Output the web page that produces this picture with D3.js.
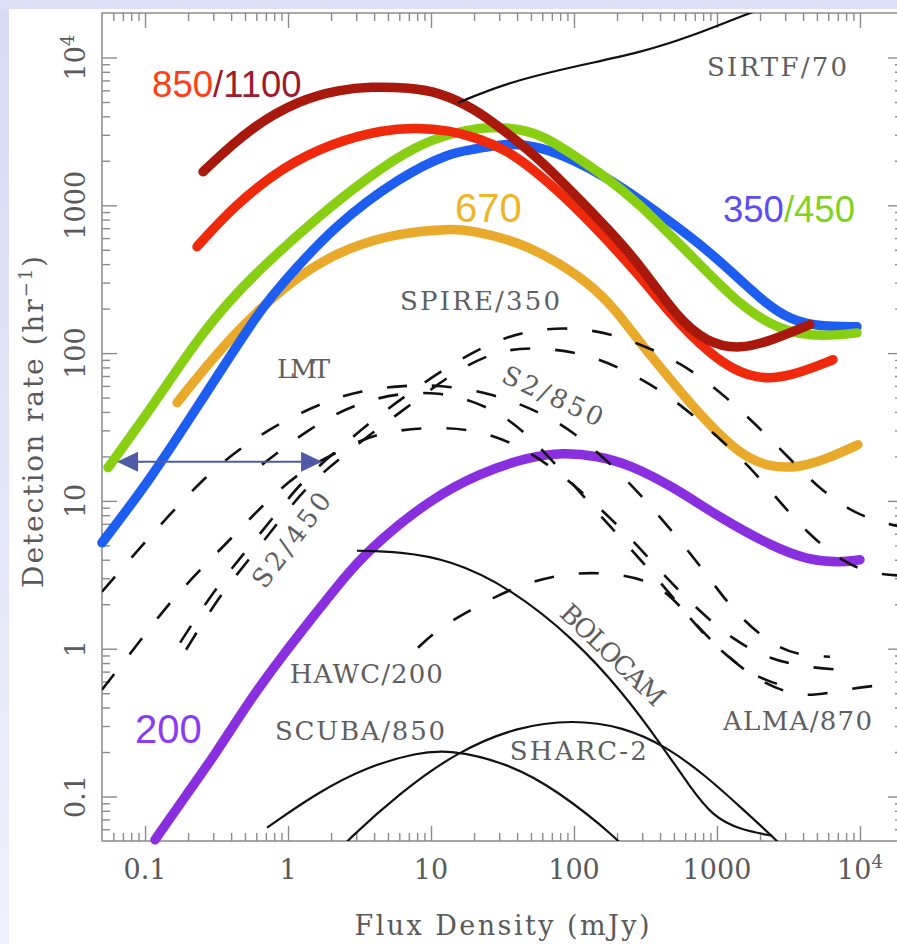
<!DOCTYPE html>
<html><head><meta charset="utf-8">
<script src="https://cdn.jsdelivr.net/npm/d3@7"></script>
<style>html,body{margin:0;padding:0;background:#fff;} svg{display:block;}</style>
</head><body>
<svg id="chart" width="897" height="944"></svg>
<script>
// ---------- data (flux density mJy, detection rate per hour) ----------
const series1100 = [[0.2545,1688],[0.542,3350],[1.213,5186],[2.31,6053],[3.74,6344],[7.13,6250],[11.56,5780],[19.7,4571],[34.0,3099],[57.8,2037],[98.4,1217],[170,705],[290,396],[525,174],[851,117.6],[1449,105.5],[2464,123],[4467,156]];
const series850  = [[0.231,525],[0.412,979],[0.923,1826],[2.064,2653],[4.62,3250],[7.98,3350],[13.58,3198],[19.7,2911],[34.0,2377],[57.8,1611],[98.4,1009],[170,585],[290,329],[447,197],[648,133],[1102,83.4],[1905,66.1],[3239,69.2],[6471,90.2]];
const series450  = [[0.0551,16.8],[0.1084,41.4],[0.231,123],[0.393,230],[0.748,428],[1.595,825],[3.565,1537],[7.98,2572],[15.2,3148],[25.9,3404],[41.9,3297],[62.7,2911],[98.4,2198],[170,1537],[290,1009],[492,604],[851,355],[1449,213],[2349,156],[3802,133],[6166,131],[9528,137]];
const series350  = [[0.05,5.21],[0.1084,13.9],[0.2425,46.2],[0.637,197],[0.923,299],[2.064,716],[6.07,1561],[13.58,2270],[19.7,2377],[34.0,2653],[57.8,2494],[98.4,2037],[170,1537],[290,1091],[492,750],[851,501],[1449,314],[2167,219],[3239,168],[5248,151],[9528,151]];
const series670  = [[0.1675,46.2],[0.412,137],[1.213,350],[2.716,525],[6.07,653],[13.58,695],[19.7,673],[35.6,585],[57.8,485],[129.4,299],[200,191],[290,117.6],[492,63.1],[851,33.8],[1449,20.6],[2349,16.8],[3802,16.8],[6166,19.6],[9683,24.0]];
const series200  = [[0.1175,0.051],[0.1905,0.0997],[0.319,0.201],[0.542,0.452],[0.923,0.91],[1.595,1.78],[2.716,3.42],[4.40,5.46],[9.84,10.2],[22.0,15.5],[49.2,19.9],[83.8,21.2],[144.9,20.2],[246.5,17.6],[492,12.5],[1102,7.46],[2464,4.90],[4258,4.00],[7244,3.82],[10000,4.00]];

const sirtf70  = [[15.45,4943],[34.0,6761],[98.4,8663],[290,10770],[648,13830],[1449,18880],[2167,21730]];
const bolocam  = [[3.037,4.60],[6.07,4.53],[13.58,4.00],[35.6,2.59],[101.6,1.15],[220,0.504],[399,0.231],[648,0.116],[938,0.073],[1449,0.0596],[2427,0.0543]];
const scuba850 = [[0.713,0.0615],[1.595,0.106],[3.565,0.159],[7.98,0.198],[13.58,0.207],[34.0,0.169],[76.0,0.111],[209.9,0.0503],[246.5,0.0404]];
const sharc2   = [[2.20,0.0417],[2.587,0.0503],[6.07,0.106],[15.2,0.201],[39.9,0.297],[98.4,0.331],[220,0.297],[447,0.217],[851,0.136],[1449,0.0853],[2630,0.0503],[2992,0.0436]];

const lmt    = [[0.05,2.43],[0.0923,4.82],[0.138,7.46],[0.263,14.6],[0.477,23.3],[0.908,34.4],[1.815,46.9],[3.19,55.7],[6.07,60.2],[11.56,61.1],[25.9,54.0],[57.8,40.1],[101.6,28.9],[187.5,17.3],[314,10.2],[525,5.72],[851,3.17],[1294,1.81],[2388,1.06],[3802,0.897],[6166,0.883]];
const s2_850 = [[0.658,17.6],[1.426,31.3],[2.94,45.5],[6.07,54.0],[11.56,54.0],[18.7,48.4],[34.5,37.1],[62.7,21.5],[113.8,11.0],[187.5,6.38],[314,3.70],[508,2.15],[824,1.21],[1449,0.744],[2349,0.589],[3802,0.528]];
const s2_450 = [[0.05,0.528],[0.0879,1.06],[0.140,1.92],[0.235,3.32],[0.412,5.72],[0.690,9.72],[1.213,15.8],[2.237,21.5],[4.06,28.9],[9.84,31.8],[22.0,30.3],[44.0,22.9],[77.3,15.8],[152.1,9.0],[275.8,5.05],[454,2.93],[760.7,1.78],[1294,1.15],[2349,0.843],[4467,0.744],[7244,0.721]];
const spireA = [[0.176,1.10],[0.299,2.43],[0.484,4.33],[0.785,7.70],[1.273,13.9],[2.31,22.9],[3.93,35.4],[7.13,54.0],[13.58,83.4],[30.4,127],[62.7,149],[135.8,146],[280,117.6],[560,86.1],[1049,54.8],[1786,34.4],[3090,20.2],[5248,11.9],[10000,7.70],[20650,6.59]];
const spireB = [[0.1936,0.984],[0.324,2.21],[0.525,3.94],[0.851,7.12],[1.380,12.9],[2.504,20.6],[4.40,31.8],[7.73,46.9],[13.58,71.4],[29.4,107],[62.7,109],[129.4,97.5],[267,71.4],[508,48.4],[923,29.4],[1647,17.6],[2671,10.2],[4258,6.09],[7605,3.82],[12736,3.17],[20650,3.12]];
const alma870 = [[8.11,1.016],[11.56,1.39],[18.1,1.78],[34.5,2.51],[73.6,3.17],[152.1,3.32],[314,2.98],[484,2.28],[736,1.39],[1294,0.817],[2064,0.589],[3802,0.466],[6683,0.512],[11749,0.562],[20650,0.580]];

const arrowSpan = [[0.0637,18.4],[1.73,18.4]];

const xMajorTicks = [0.1, 1, 10, 100, 1000, 10000];
const yMajorTicks = [0.1, 1, 10, 100, 1000, 10000];
const tickLabels = ["0.1", "1", "10", "100", "1000", "10^4"];

// ---------- drawing ----------
const svg = d3.select("#chart");
const W = 897, H = 944;

const defs = svg.append("defs");
const lg = defs.append("linearGradient").attr("id","leftgrad").attr("x1",0).attr("y1",0).attr("x2",0).attr("y2",1);
lg.append("stop").attr("offset","0%").attr("stop-color","#d6daf3");
lg.append("stop").attr("offset","100%").attr("stop-color","#eef0fa");
svg.append("rect").attr("x",0).attr("y",0).attr("width",W).attr("height",H).attr("fill","url(#leftgrad)");
svg.append("rect").attr("x",0).attr("y",0).attr("width",W).attr("height",9).attr("fill","#dcdff6");
svg.append("rect").attr("x",9).attr("y",9).attr("width",W-9).attr("height",H-9).attr("fill","#ffffff");

const x = d3.scaleLog().domain([0.05, 2e4]).range([102, 903]);
const y = d3.scaleLog().domain([0.05, 2e4]).range([841, 13]);
const [x0, x1] = x.range(), [y0, y1] = y.range();

defs.append("clipPath").attr("id","plotclip").append("rect")
  .attr("x", x0).attr("y", y1).attr("width", x1 - x0).attr("height", y0 - y1);

function minors(domain) {
  const out = [];
  for (let e = -2; e <= 4; e++) for (let k = 2; k <= 9; k++) {
    const v = k * Math.pow(10, e);
    if (v > domain[0] && v < domain[1]) out.push(v);
  }
  return out;
}
const axisColor = "#8a8a8a";
function styleAxis(g) {
  g.select(".domain").remove();
  g.selectAll(".tick line").attr("stroke", axisColor).attr("stroke-width", 1.4);
  g.selectAll(".tick text").remove();
}
const axes = svg.append("g");
axes.append("g").attr("transform",`translate(0,${y0})`).call(d3.axisBottom(x).tickValues(xMajorTicks).tickSize(-15).tickSizeOuter(0)).call(styleAxis);
axes.append("g").attr("transform",`translate(0,${y0})`).call(d3.axisBottom(x).tickValues(minors(x.domain())).tickSize(-8).tickSizeOuter(0)).call(styleAxis);
axes.append("g").attr("transform",`translate(0,${y1})`).call(d3.axisTop(x).tickValues(xMajorTicks).tickSize(-15).tickSizeOuter(0)).call(styleAxis);
axes.append("g").attr("transform",`translate(0,${y1})`).call(d3.axisTop(x).tickValues(minors(x.domain())).tickSize(-8).tickSizeOuter(0)).call(styleAxis);
axes.append("g").attr("transform",`translate(${x0},0)`).call(d3.axisLeft(y).tickValues(yMajorTicks).tickSize(-15).tickSizeOuter(0)).call(styleAxis);
axes.append("g").attr("transform",`translate(${x0},0)`).call(d3.axisLeft(y).tickValues(minors(y.domain())).tickSize(-8).tickSizeOuter(0)).call(styleAxis);
axes.append("g").attr("transform",`translate(${x1},0)`).call(d3.axisRight(y).tickValues(yMajorTicks).tickSize(-15).tickSizeOuter(0)).call(styleAxis);
axes.append("g").attr("transform",`translate(${x1},0)`).call(d3.axisRight(y).tickValues(minors(y.domain())).tickSize(-8).tickSizeOuter(0)).call(styleAxis);
axes.append("rect").attr("x",x0).attr("y",y1).attr("width",x1-x0).attr("height",y0-y1)
  .attr("fill","none").attr("stroke",axisColor).attr("stroke-width",1.5);

const serif = "'DejaVu Serif', 'Liberation Serif', serif";
const textGray = "#5a5a5a";

function addTickText(g, label) {
  if (label.indexOf("^") >= 0) {
    const [b, p] = label.split("^");
    g.append("tspan").text(b);
    g.append("tspan").attr("dy", -11).attr("font-size", 18).text(p);
  } else g.text(label);
}
xMajorTicks.forEach((v, i) => {
  const t = svg.append("text").attr("x", x(v)).attr("y", 879).attr("text-anchor","middle")
    .attr("font-family", serif).attr("font-size", 27).attr("fill", textGray);
  addTickText(t, tickLabels[i]);
});
yMajorTicks.forEach((v, i) => {
  const t = svg.append("text").attr("transform", `translate(85,${y(v)}) rotate(-90)`).attr("text-anchor","middle")
    .attr("font-family", serif).attr("font-size", 27).attr("fill", textGray);
  addTickText(t, tickLabels[i]);
});
svg.append("text").attr("x", 502).attr("y", 935).attr("text-anchor","middle")
  .attr("font-family", serif).attr("font-size", 27).attr("fill", textGray)
  .attr("textLength", 295).attr("lengthAdjust","spacing").text("Flux Density (mJy)");
const yt = svg.append("text").attr("transform","translate(43,422) rotate(-90)").attr("text-anchor","middle")
  .attr("font-family", serif).attr("font-size", 28).attr("fill", textGray)
  .attr("textLength", 332).attr("lengthAdjust","spacing");
yt.append("tspan").text("Detection rate (hr");
yt.append("tspan").attr("dy", -11).attr("font-size", 18).text("\u22121");
yt.append("tspan").attr("dy", 11).text(")");

// ---------- curves ----------
const line = d3.line().x(d => x(d[0])).y(d => y(d[1])).curve(d3.curveBasis);
const thick = [
  [series670, "#e9aa2c"],
  [series350, "#1d5ef0"],
  [series450, "#88cf14"],
  [series850, "#ef2a0c"],
  [series1100, "#a8180d"],
  [series200, "#8a2fe0"]
];
const gThick = svg.append("g");
thick.forEach(([d, c]) => {
  gThick.append("path").datum(d).attr("d", line).attr("fill","none")
    .attr("stroke", c).attr("stroke-width", 9.5).attr("stroke-linecap","round").attr("stroke-linejoin","round");
});

const gBlack = svg.append("g").attr("clip-path","url(#plotclip)");
[sirtf70, bolocam, scuba850, sharc2].forEach(d => {
  gBlack.append("path").datum(d).attr("d", line).attr("fill","none")
    .attr("stroke","#111").attr("stroke-width", 2.2);
});
[lmt, s2_850, s2_450, spireA, spireB, alma870].forEach(d => {
  gBlack.append("path").datum(d).attr("d", line).attr("fill","none")
    .attr("stroke","#111").attr("stroke-width", 2.6).attr("stroke-dasharray","20,25");
});

// ---------- double arrow ----------
const arrowColor = "#4f5aa6";
const ax0 = x(arrowSpan[0][0]), ax1 = x(arrowSpan[1][0]), ay = y(arrowSpan[0][1]);
svg.append("line").attr("x1", ax0 + 15).attr("x2", ax1 - 15).attr("y1", ay).attr("y2", ay)
  .attr("stroke", arrowColor).attr("stroke-width", 2);
svg.append("path").attr("d", `M${ax0},${ay} L${ax0+21},${ay-10} L${ax0+21},${ay+10} Z`).attr("fill", arrowColor);
svg.append("path").attr("d", `M${ax1},${ay} L${ax1-21},${ay-10} L${ax1-21},${ay+10} Z`).attr("fill", arrowColor);

// ---------- labels ----------
const sans = "'Liberation Sans', Arial, sans-serif";
function colorLabel(pos, parts, size) {
  const t = svg.append("text").attr("x", x(pos[0])).attr("y", y(pos[1]))
    .attr("font-family", sans).attr("font-size", size);
  parts.forEach(([s, c]) => t.append("tspan").attr("fill", c).text(s));
}
colorLabel([0.112, 5430], [["850", "#ff3d14"], ["/1100", "#9e1b2c"]], 36.5);
colorLabel([14.72, 774], [["670", "#f0b428"]], 40);
colorLabel([1102, 774], [["350", "#5b4cf5"], ["/450", "#7fd31e"]], 36.5);
colorLabel([0.0851, 0.231], [["200", "#8b3cf2"]], 40);

const instLabels = [
  ["SIRTF/70", [851, 7534], 140],
  ["SPIRE/350", [6.07, 197], 160],
  ["LMT", [0.838, 68.2], 53],
  ["HAWC/200", [1.03, 0.589], 153],
  ["SCUBA/850", [0.811, 0.242], 170],
  ["SHARC-2", [35.6, 0.177], 137],
  ["ALMA/870", [1102, 0.283], 149]
];
instLabels.forEach(([s, p, w]) => {
  svg.append("text").attr("x", x(p[0])).attr("y", y(p[1]))
    .attr("font-family", serif).attr("font-size", 26).attr("fill", "#5e5e5e")
    .attr("textLength", w).attr("lengthAdjust","spacing").text(s);
});
const rotLabels = [
  ["S2/850", [71.3, 51.5], 108, 25],
  ["S2/450", [1.05, 5.46], 112, -53],
  ["BOLOCAM", [187.5, 0.911], 134, 44]
];
rotLabels.forEach(([s, p, w, a]) => {
  svg.append("text").attr("transform", `translate(${x(p[0])},${y(p[1])}) rotate(${a})`)
    .attr("text-anchor","middle").attr("dy","0.36em")
    .attr("font-family", serif).attr("font-size", 26).attr("fill", "#5e5e5e")
    .attr("textLength", w).attr("lengthAdjust","spacing").text(s);
});
</script>
</body></html>
